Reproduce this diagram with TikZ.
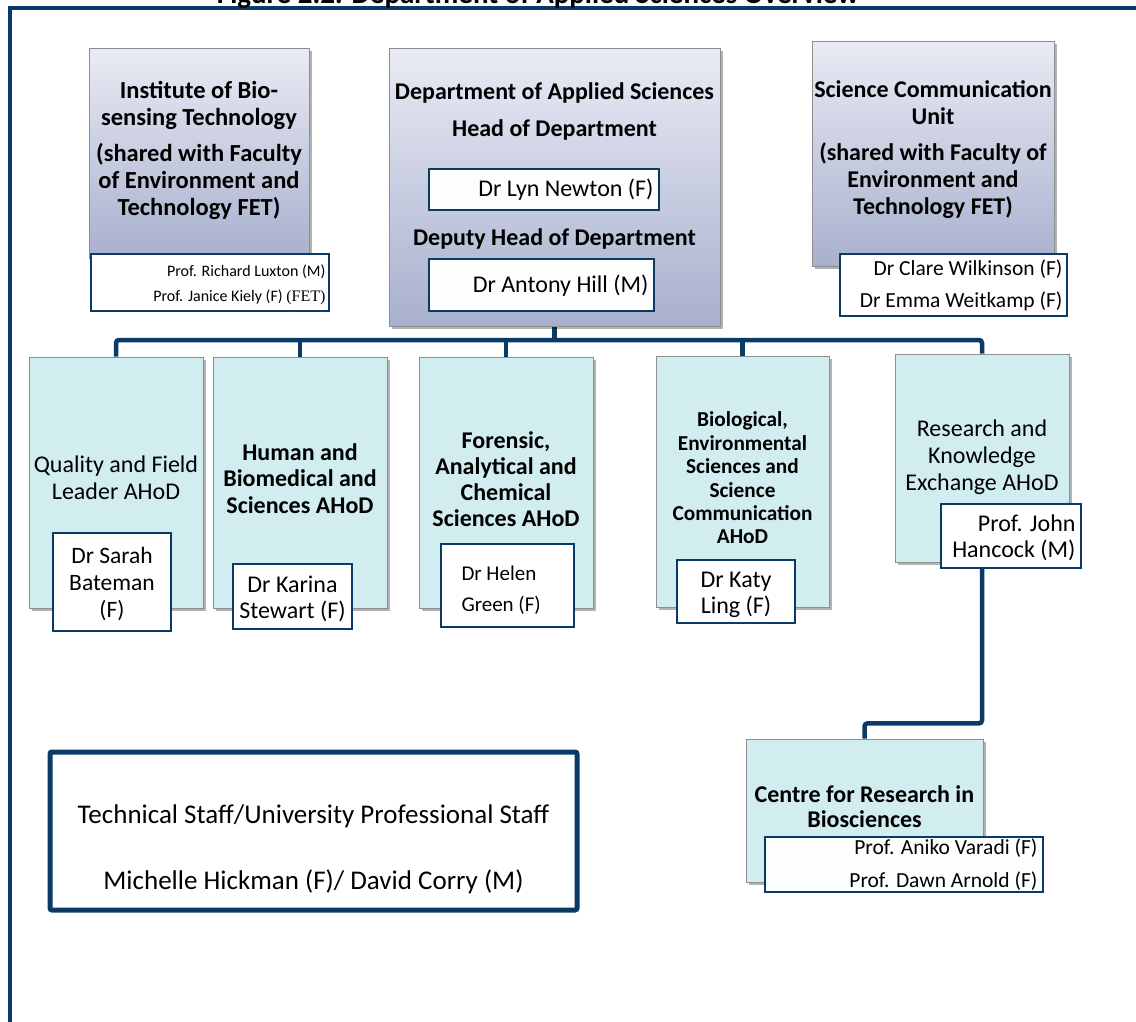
\documentclass[tikz,border=0pt]{standalone}
\usepackage{fontspec}
\setmainfont{Carlito}
\newfontfamily\serifpart{Liberation Serif}
\usepackage{tikz}
\usetikzlibrary{shadows, backgrounds}

\definecolor{navy}{HTML}{0B3A66}
\definecolor{lavtop}{HTML}{E9EBF4}
\definecolor{lavbot}{HTML}{A8B0CD}
\definecolor{paleteal}{HTML}{D1EDF0}
\definecolor{boxgray}{HTML}{8E8E8E}

\tikzset{
  frameline/.style={draw=navy, line width=4.5pt},
  link/.style={draw=navy, line width=4.5pt, rounded corners=3pt},
  softshadow/.style={drop shadow={shadow xshift=3pt, shadow yshift=-3pt, opacity=0.3, fill=black}},
  unitbox/.style={softshadow, draw=boxgray, line width=0.8pt, top color=lavtop, bottom color=lavbot, inner sep=0pt},
  aheadbox/.style={softshadow, draw=boxgray, line width=0.8pt, fill=paleteal, inner sep=0pt},
  namebox/.style={draw=navy, line width=1.4pt, fill=white, inner sep=0pt},
  staffbox/.style={draw=navy, line width=5pt, rounded corners=2pt, fill=white, inner sep=0pt},
  boldtxt/.style={font=\bfseries\fontsize{24}{26.5}\selectfont, align=center, inner sep=0pt},
  plaintxt/.style={font=\fontsize{24}{27}\selectfont, align=center, inner sep=0pt},
  nametxt/.style={font=\fontsize{24}{26}\selectfont, align=center, inner sep=0pt},
  smalltxt/.style={font=\fontsize{16}{25}\selectfont, align=right, inner sep=0pt},
}

\begin{document}
\begin{tikzpicture}[x=1pt, y=-1pt]
  \useasboundingbox (0,0) rectangle (1136,1021);

  % page frame and caption
  \draw[frameline] (10,1040) -- (10,8) -- (1150,8);
  \node[font=\bfseries\fontsize{29}{32}\selectfont, anchor=base, inner sep=0pt] (caption) at (538,3)
    {Figure 2.2: Department of Applied Sciences Overview};

  % top row
  \node[unitbox, minimum width=220, minimum height=210] (ibt) at (199,153) {};
  \node[boldtxt, font=\bfseries\fontsize{24.5}{27}\selectfont] (ibtT) at (199,150)
    {Institute of Bio-\\sensing Technology\\[9pt](shared with Faculty\\of Environment and\\Technology FET)};
  \node[namebox, minimum width=238, minimum height=57] (ibtnames) at (210,282.5) {};
  \node[smalltxt, anchor=east] (ibtnamesT) at ([xshift=-4pt, yshift=-2pt]ibtnames.east)
    {Prof. Richard Luxton (M)\\Prof. Janice Kiely (F) {\serifpart(FET)}};

  \node[unitbox, minimum width=331, minimum height=278] (dept) at (554.5,187) {};
  \node[boldtxt] (deptT) at (554.5,93) {Department of Applied Sciences};
  \node[boldtxt] (hodT) at (554.5,130) {Head of Department};
  \node[namebox, fill=white!96!lavtop, minimum width=230, minimum height=41] (hod) at (544,189.5) {};
  \node[nametxt, anchor=east] (hodname) at ([xshift=-6pt]hod.east) {Dr Lyn Newton (F)};
  \node[boldtxt] (deputyT) at (554.5,239) {Deputy Head of Department};
  \node[namebox, fill=white!96!lavtop, minimum width=225, minimum height=52] (deputy) at (541.5,285) {};
  \node[nametxt, anchor=east] (deputyname) at ([xshift=-6pt, yshift=-1pt]deputy.east) {Dr Antony Hill (M)};

  \node[unitbox, minimum width=242, minimum height=225] (scu) at (933,153.5) {};
  \node[boldtxt, font=\bfseries\fontsize{24}{27}\selectfont] (scuT) at (933,150)
    {Science Communication\\Unit\\[9pt](shared with Faculty of\\Environment and\\Technology FET)};
  \node[namebox, minimum width=227, minimum height=62] (scunames) at (953.5,285) {};
  \node[nametxt, align=right, font=\fontsize{21.5}{32}\selectfont, anchor=east] (scunamesT) at ([xshift=-5pt]scunames.east)
    {Dr Clare Wilkinson (F)\\Dr Emma Weitkamp (F)};

  % associate heads
  \node[aheadbox, minimum width=174, minimum height=251] (quality) at (116,482.5) {};
  \node[plaintxt] (qualityT) at (116,478) {Quality and Field\\Leader AHoD};
  \node[namebox, minimum width=118, minimum height=98] (qualityname) at (112,582) {};
  \node[nametxt, font=\fontsize{23.5}{27}\selectfont] (qualitynameT) at (112,583.5) {Dr Sarah\\Bateman\\(F)};

  \node[aheadbox, minimum width=174, minimum height=251] (human) at (300,482.5) {};
  \node[boldtxt] (humanT) at (300,478.5) {Human and\\Biomedical and\\Sciences AHoD};
  \node[namebox, minimum width=119, minimum height=65] (humanname) at (292.5,596.5) {};
  \node[nametxt] (humannameT) at (292.5,598.5) {Dr Karina\\Stewart (F)};

  \node[aheadbox, minimum width=174, minimum height=251] (forensic) at (506,482.5) {};
  \node[boldtxt, font=\bfseries\fontsize{24}{26.2}\selectfont] (forensicT) at (506,479) {Forensic,\\Analytical and\\Chemical\\Sciences AHoD};
  \node[namebox, minimum width=133, minimum height=83] (forensicname) at (507.5,585.5) {};
  \node[nametxt, align=left, font=\fontsize{21}{31}\selectfont, anchor=west] (forensicnameT)
    at ([xshift=21pt, yshift=-5pt]forensicname.west) {Dr Helen\\Green (F)};

  \node[aheadbox, minimum width=173, minimum height=251] (bio) at (742.5,481.5) {};
  \node[boldtxt, font=\bfseries\fontsize{21.3}{23.4}\selectfont] (bioT) at (742.5,478)
    {Biological,\\Environmental\\Sciences and\\Science\\Communication\\AHoD};
  \node[namebox, minimum width=118, minimum height=63] (bioname) at (736,591.5) {};
  \node[nametxt] (bionameT) at (736,595) {Dr Katy\\Ling (F)};

  \node[aheadbox, minimum width=174, minimum height=208] (research) at (982,458) {};
  \node[plaintxt] (researchT) at (982,457) {Research and\\Knowledge\\Exchange AHoD};
  \node[namebox, minimum width=140, minimum height=64] (hancock) at (1011,536) {};
  \node[nametxt, align=right, anchor=east] (hancockT)
    at ([xshift=-6pt, yshift=-2pt]hancock.east) {Prof. John\\Hancock (M)};

  \node[aheadbox, minimum width=237, minimum height=143] (centre) at (864.5,810.5) {};
  \node[boldtxt, font=\bfseries\fontsize{24}{25}\selectfont] (centreT) at (864.5,806.5) {Centre for Research in\\Biosciences};
  \node[namebox, fill=white!95!paleteal, minimum width=278, minimum height=55] (centrenames) at (904,864.5) {};
  \node[nametxt, align=right, font=\fontsize{21.5}{33}\selectfont, anchor=east] (centrenamesT)
    at ([xshift=-6pt]centrenames.east) {Prof. Aniko Varadi (F)\\Prof. Dawn Arnold (F)};

  \node[staffbox, minimum width=527, minimum height=158] (staff) at (313.5,831) {};
  \node[nametxt, font=\fontsize{27}{66}\selectfont] (staffT) at (313.5,849)
    {Technical Staff/University Professional Staff\\Michelle Hickman (F)/ David Corry (M)};

  \begin{scope}[on background layer]
    \coordinate (bar) at (555,340);
    \draw[link] (dept.south) -- (dept.south |- bar);
    \draw[link] (quality.north) |- (bar) -| (research.north);
    \foreach \unit in {human, forensic, bio}
      \draw[link] (\unit.north) -- (\unit.north |- bar);
    \draw[link] (research.south) -- ++(0,161) -| (centre.north);
  \end{scope}
\end{tikzpicture}
\end{document}
